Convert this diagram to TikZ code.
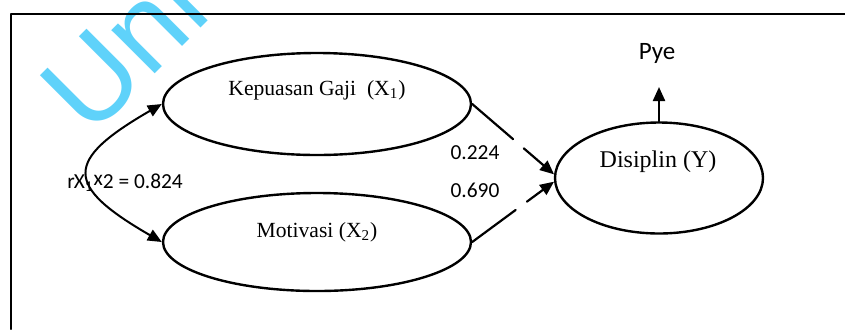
\documentclass[tikz,border=0pt]{standalone}
\usepackage{fontspec}
\setmainfont{Liberation Serif}
\newfontfamily\calibri{Carlito}
\newfontfamily\arial{Liberation Sans}
\usetikzlibrary{arrows.meta,shapes.geometric}
\definecolor{wmcyan}{RGB}{95,210,250}

\begin{document}
\begin{tikzpicture}[x=0.5pt,y=0.5pt,line cap=round,line join=round,
  latent/.style={draw,ellipse,line width=1.2pt,inner sep=0pt},
  varname/.style={font=\fontsize{10.8}{13}\selectfont},
  coef/.style={font=\calibri\fontsize{10.7}{13}\selectfont},
  tip/.style={-{Triangle[length=7pt,width=6pt]}},
  gapline/.style={dash pattern=on 27pt off 7pt on 60pt off 1pt}]
  \useasboundingbox (0,0) rectangle (845,329);
  \begin{scope}
    \clip (0,0) rectangle (845,329);
    \node[text=wmcyan,font=\arial\fontsize{58}{62}\selectfont,rotate=45,
      anchor=base west,inner sep=0pt] (mark) at (90,190) {Uni};
  \end{scope}
  % frame, open at right and bottom
  \draw[line width=1pt] (11,0) -- (11,315) -- (845,315);
  % latent variables
  \node[latent,minimum width=154pt,minimum height=51pt] (x1) at (317,225) {};
  \node[latent,minimum width=154pt,minimum height=49pt] (x2) at (317,87) {};
  \node[latent,minimum width=104pt,minimum height=55.5pt] (y) at (659,151) {};
  \node[varname] (x1lbl) at (317,239) {Kepuasan Gaji\ \ (X\textsubscript{1})};
  \node[varname] (x2lbl) at (317,97) {Motivasi (X\textsubscript{2})};
  \node[font=\fontsize{12}{14}\selectfont] (ylbl) at (658,167) {Disiplin (Y)};
  % correlation between X1 and X2
  \draw[line width=1pt,{Triangle[length=7pt,width=6pt]}-{Triangle[length=7pt,width=6pt]}]
    (x1.west) to[out=210,in=150,looseness=2.1] (x2.west);
  \node[coef,anchor=west,inner sep=0pt] (r12) at (67,146)
    {r\kern-0.5pt X\textsubscript{1}\raisebox{1.5pt}{x}2 = 0.824};
  % paths to Y
  \draw[line width=1.1pt,tip,gapline] (x1.east) -- (y.178);
  \draw[line width=1.1pt,tip,gapline] (x2.east) -- (y.182);
  \node[coef] (c1) at (475,176) {0.224};
  \node[coef] (c2) at (475,139) {0.690};
  % residual
  \node[font=\calibri\fontsize{12.5}{14}\selectfont] (pye) at (657,276) {Pye};
  \coordinate (pyetip) at (659,242);
  \draw[line width=1.1pt,tip] (y.north) -- (pyetip);
\end{tikzpicture}
\end{document}
